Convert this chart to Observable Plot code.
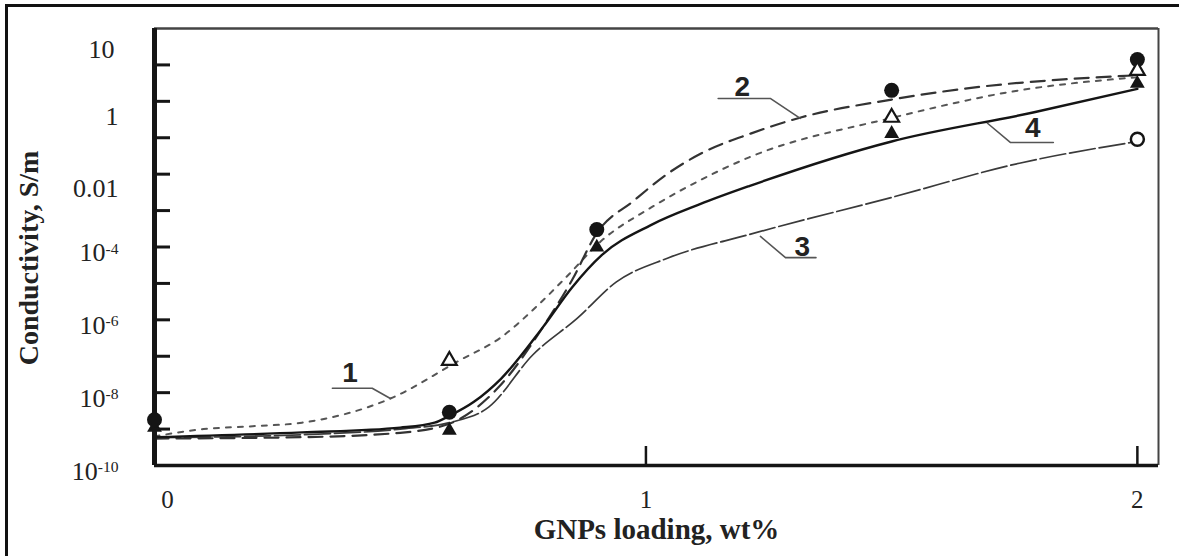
<!DOCTYPE html>
<html>
<head>
<meta charset="utf-8">
<script src="https://cdn.jsdelivr.net/npm/d3@7"></script>
<script src="https://cdn.jsdelivr.net/npm/@observablehq/plot@0.6"></script>
<style>
  html, body { margin: 0; padding: 0; background: #fff; }
  #wrap { position: relative; width: 1179px; height: 556px; overflow: hidden; }
  #chart { position: absolute; left: 0; top: 0; }
  #border { position: absolute; left: 5px; top: 4px; width: 1400px; height: 800px;
            border-left: 3px solid #111; border-top: 3px solid #111; }
</style>
</head>
<body>
<div id="wrap"><div id="chart"></div><div id="border"></div></div>
<script>
// Measured conductivity (S/m) against GNPs loading (wt%)
const loading = [0, 0.6, 0.9, 1.5, 2];
const filledCircleValues = [1.8e-9, 2.9e-9, 3.0e-4, 2.0, 14];
const filledTriangleValues = [1.1e-9, 9.1e-10, 9.8e-5, 0.13, 3.1];
const openTriangleLoading = [0.6, 1.5, 2];
const openTriangleValues = [7.6e-8, 0.36, 7.0];
const openCircleLoading = [2];
const openCircleValues = [0.091];

// Model curves 1–4
const curve1Loading = [0, 0.1, 0.2, 0.3, 0.48, 0.62, 0.705, 0.78, 0.84, 0.91, 1.01, 1.11, 1.21, 1.5, 1.76, 2];
const curve1Values = [6.3e-10, 1.0e-9, 1.2e-9, 1.5e-9, 6.9e-9, 7.6e-8, 3.3e-7, 2.5e-6, 1.6e-5, 1.5e-4, 1.2e-3, 6.8e-3, 0.029, 0.35, 2.0, 4.6];

const curve2Loading = [0, 0.3, 0.5, 0.6, 0.7, 0.8, 0.85, 0.9, 0.976, 1.045, 1.112, 1.213, 1.315, 1.5, 1.69, 1.85, 2];
const curve2Values = [5.5e-10, 6.0e-10, 7.9e-10, 1.4e-9, 1.4e-8, 1.0e-6, 1.26e-5, 2.4e-4, 1.9e-3, 0.0105, 0.037, 0.13, 0.36, 1.12, 2.6, 4.0, 5.2];

const curve3Loading = [0, 0.3, 0.5, 0.6, 0.68, 0.77, 0.86, 0.94, 1.045, 1.21, 1.5, 1.76, 2];
const curve3Values = [5.8e-10, 7.0e-10, 1.0e-9, 1.5e-9, 4.0e-9, 1.1e-7, 1.1e-6, 1.1e-5, 5.0e-5, 2.2e-4, 2.3e-3, 0.020, 0.079];

const curve4Loading = [0, 0.3, 0.5, 0.57, 0.6, 0.65, 0.705, 0.79, 0.85, 0.91, 1.01, 1.11, 1.21, 1.5, 1.79, 2];
const curve4Values = [6.0e-10, 8.1e-10, 1.1e-9, 1.5e-9, 2.3e-9, 5.6e-9, 2.4e-8, 6.2e-7, 7.9e-6, 6.0e-5, 4.0e-4, 1.5e-3, 4.7e-3, 0.079, 0.50, 2.2];

// Curve numbers with their leader lines
const curveNames = ["1", "2", "3", "4"];
const nameLoading = [0.398, 1.196, 1.318, 1.787];
const nameValues = [3.4e-8, 2.4, 9.8e-5, 0.18];
const leaderLoading = [[0.362, 0.443, 0.480], [1.147, 1.253, 1.314], [1.233, 1.284, 1.346], [1.695, 1.742, 1.829]];
const leaderValues = [[1.32e-8, 1.32e-8, 6.9e-9], [1.2, 1.2, 0.34], [1.95e-4, 5.1e-5, 5.1e-5], [0.25, 0.074, 0.074]];

// Axis ticks and labels
const xMax = 2.043;
const yDomain = [1e-10, 1e2];
const yDecades = [1e-10, 1e-9, 1e-8, 1e-7, 1e-6, 1e-5, 1e-4, 1e-3, 1e-2, 1e-1, 1, 10];
const yLabelValues = [10, 1, 0.01, 1e-4, 1e-6, 1e-8, 1e-10];
const yLabelText = ["10", "1", "0.01", "10^-4", "10^-6", "10^-8", "10^-10"];
const xTicks = [1, 2];
const xLabelValues = [0, 1, 2];
const xTitle = "GNPs loading, wt%";
const yTitle = "Conductivity, S/m";

const rows = (xs, ys) => xs.map((x, i) => ({x, y: ys[i]}));
const yFmt = d => yLabelText[yLabelValues.indexOf(d)];
const serif = "Liberation Serif, Times New Roman, serif";
const sans = "Liberation Sans, Arial, sans-serif";
const ink = "#151515";

const leaders = leaderLoading.flatMap((xs, k) => xs.map((x, i) => ({k, x, y: leaderValues[k][i]})));
const names = curveNames.map((t, i) => ({t, x: nameLoading[i], y: nameValues[i]}));

const chart = Plot.plot({
  width: 1179,
  height: 556,
  marginLeft: 154,
  marginRight: 21,
  marginTop: 28,
  marginBottom: 91,
  style: {background: "transparent"},
  x: {domain: [0, xMax]},
  y: {type: "log", domain: yDomain},
  marks: [
    // fitted curves
    Plot.line(rows(curve3Loading, curve3Values), {x: "x", y: "y", curve: "monotone-x", stroke: "#3a3a3a", strokeWidth: 1.7, strokeDasharray: "26,4"}),
    Plot.line(rows(curve1Loading, curve1Values), {x: "x", y: "y", curve: "monotone-x", stroke: "#555", strokeWidth: 2, strokeDasharray: "5,7"}),
    Plot.line(rows(curve2Loading, curve2Values), {x: "x", y: "y", curve: "monotone-x", stroke: "#333", strokeWidth: 2.2, strokeDasharray: "14,8"}),
    Plot.line(rows(curve4Loading, curve4Values), {x: "x", y: "y", curve: "monotone-x", stroke: ink, strokeWidth: 2.4}),

    // leader lines and curve numbers
    Plot.line(leaders, {x: "x", y: "y", z: "k", stroke: "#555", strokeWidth: 1.6}),
    Plot.text(names, {x: "x", y: "y", text: "t", fontFamily: sans, fontWeight: "bold", fontSize: 28, fill: "#222"}),

    // measured points
    Plot.dot(rows(loading, filledCircleValues), {x: "x", y: "y", r: 7.5, fill: ink, clip: false}),
    Plot.dot(rows(loading, filledTriangleValues), {x: "x", y: "y", r: 5.5, symbol: "triangle", fill: ink}),
    Plot.dot(rows(openTriangleLoading, openTriangleValues), {x: "x", y: "y", r: 5.5, symbol: "triangle", fill: "white", stroke: ink, strokeWidth: 2.2}),
    Plot.dot(rows(openCircleLoading, openCircleValues), {x: "x", y: "y", r: 6.5, fill: "white", stroke: ink, strokeWidth: 2.5}),

    // plot box
    Plot.ruleY([yDomain[1]], {stroke: "#444", strokeWidth: 2.5}),
    Plot.ruleX([xMax], {stroke: "#444", strokeWidth: 2}),
    Plot.ruleY([yDomain[0]], {stroke: ink, strokeWidth: 3.5}),
    Plot.ruleX([0], {stroke: ink, strokeWidth: 5}),

    // y axis: inward ticks at every decade, labels every other decade
    Plot.axisY({ticks: yDecades, tickSize: -16, strokeWidth: 3, stroke: ink, tickFormat: () => "", label: null}),
    Plot.axisY({ticks: yLabelValues.slice(0, 1), tickSize: 0, tickPadding: 40, tickFormat: yFmt, dy: -15,
      fontFamily: serif, fontSize: 26, fill: "#222", label: null}),
    Plot.axisY({ticks: yLabelValues.slice(1, 3), tickSize: 0, tickPadding: 36, tickFormat: yFmt, dy: 15,
      fontFamily: serif, fontSize: 26, fill: "#222", label: null}),
    Plot.axisY({ticks: yLabelValues.slice(3), tickSize: 0, tickPadding: 36, tickFormat: yFmt, dy: 6,
      fontFamily: serif, fontSize: 26, fill: "#222", label: null}),

    // x axis: inward ticks, labels below
    Plot.axisX({ticks: xTicks, tickSize: -19, strokeWidth: 2.5, stroke: ink, tickFormat: () => "", label: null}),
    Plot.axisX({ticks: xLabelValues.slice(0, 1), tickSize: 0, tickPadding: 25, dx: 13, tickFormat: d => String(d),
      fontFamily: serif, fontSize: 25, fill: "#222", label: null}),
    Plot.axisX({ticks: xLabelValues.slice(1), tickSize: 0, tickPadding: 25, tickFormat: d => String(d),
      fontFamily: serif, fontSize: 25, fill: "#222", label: null}),

    // axis titles
    Plot.text([xTitle], {frameAnchor: "bottom", lineAnchor: "middle", dy: 64, fontFamily: serif, fontWeight: "bold", fontSize: 29, fill: "#222"}),
    Plot.text([yTitle], {frameAnchor: "left", textAnchor: "middle", lineAnchor: "middle", dx: -125, dy: 11, rotate: -90,
      fontFamily: serif, fontWeight: "bold", fontSize: 28, fill: "#222"})
  ]
});

// Powers of ten: raise the exponent as a small superscript
d3.select(chart).selectAll("text").each(function () {
  const m = /^10\^(.+)$/.exec(this.textContent);
  if (!m) return;
  const t = d3.select(this);
  t.text("10");
  t.append("tspan").attr("dy", "-0.5em").attr("font-size", "0.6em").text(m[1]);
});

document.getElementById("chart").appendChild(chart);
</script>
</body>
</html>
